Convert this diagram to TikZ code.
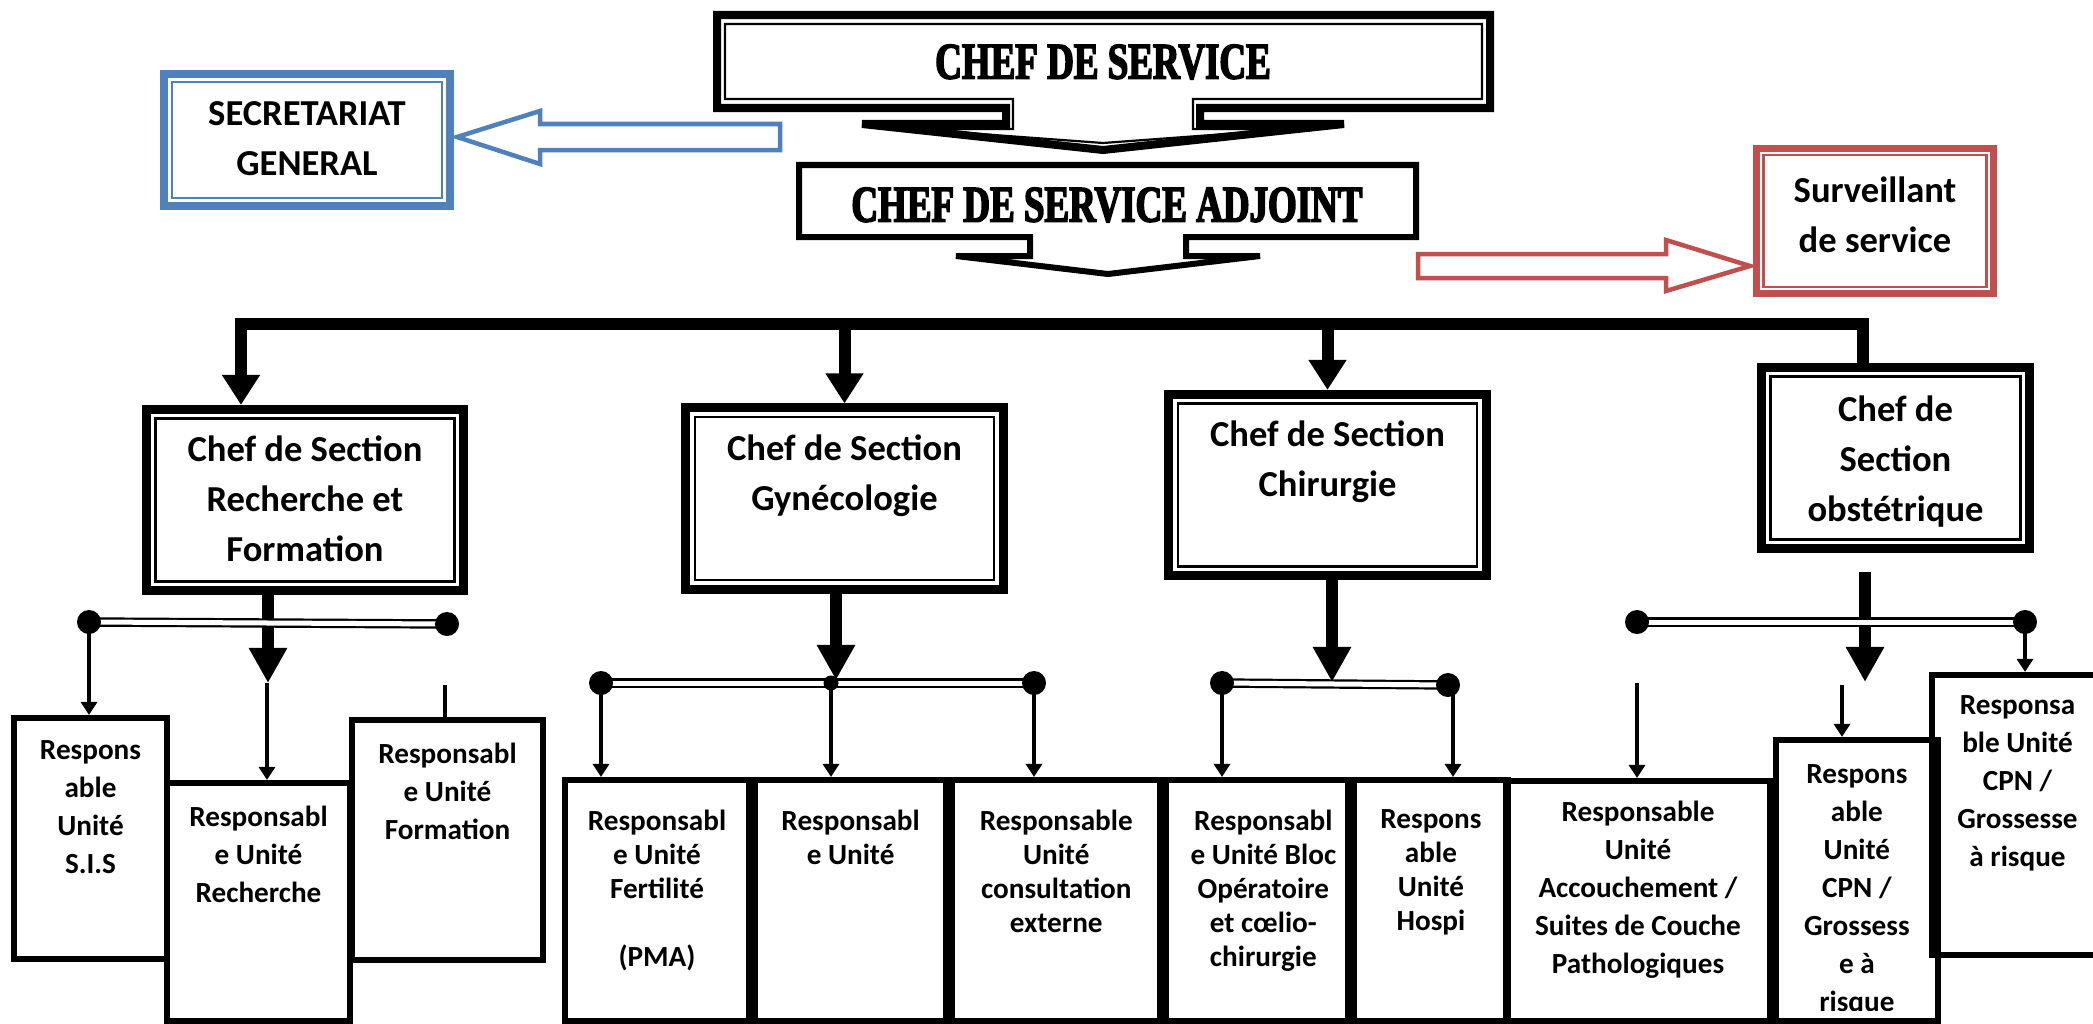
\documentclass[tikz,border=0pt]{standalone}
\usepackage{fontspec}
\setmainfont{Carlito}
\newfontfamily\titlefont[FakeStretch=0.72,BoldFeatures={FakeBold=3}]{Liberation Serif}
\usetikzlibrary{arrows.meta, positioning}
\definecolor{offblue}{HTML}{4F81BD}
\definecolor{offred}{HTML}{C0504D}

\begin{document}
\begin{tikzpicture}[
    x=.01cm, y=-.01cm,
    lbl/.style={font=\bfseries\fontsize{10.4}{14.2}\selectfont, align=center, inner sep=0pt},
    ulbl/.style={font=\bfseries\fontsize{8.3}{10.8}\selectfont, align=center, inner sep=0pt},
    ulbltight/.style={font=\bfseries\fontsize{8.3}{9.7}\selectfont, align=center, inner sep=0pt},
    ttl/.style={font=\titlefont\bfseries\fontsize{14.6}{16}\selectfont, inner sep=0pt},
    secbox/.style={draw, line width=.09cm, fill=white, inner sep=0pt, minimum width=3.17cm, minimum height=1.81cm},
    innerframe/.style={draw, line width=.022cm, inner sep=0pt},
    unitbox/.style={draw, line width=.06cm, inner sep=0pt},
    rowbox/.style={unitbox, minimum height=2.41cm},
    thinline/.style={line width=.022cm},
    busline/.style={line width=.12cm, line join=miter},
    bigarrow/.style={line width=.12cm, -{Triangle[width=.36cm, length=.35cm]}},
    smallarrow/.style={line width=.04cm, -{Triangle[width=.16cm, length=.13cm]}},
    bar/.style={double, double distance=.05cm, line width=.022cm},
    blockarrow/.style={line width=.045cm, fill=white, line join=miter},
]
\useasboundingbox (0,0) rectangle (2093,1024);
\clip (0,0) rectangle (2093,1024);

%% top: chef de service and adjoint, drawn as callouts
\draw[line width=.08cm, fill=white] (717,15) -- (1490,15) -- (1490,108) -- (1200,108)
    -- (1200,124) -- (1344,124) -- (1103,150) -- (862,124) -- (1006,124)
    -- (1006,108) -- (717,108) -- cycle;
\draw[thinline] (725,24) -- (1482,24) -- (1482,99) -- (1193,99) -- (1193,129)
    -- (1294,129) -- (1103,143) -- (912,129) -- (1013,129) -- (1013,99)
    -- (725,99) -- cycle;
\node[ttl] (cds) at (1103,62) {CHEF DE SERVICE};

\draw[line width=.06cm, fill=white] (799,165) -- (1416,165) -- (1416,237) -- (1186,237)
    -- (1186,256) -- (1260,256) -- (1108,274) -- (956,256) -- (1030,256)
    -- (1030,237) -- (799,237) -- cycle;
\node[ttl] (adj) at (1107,205) {CHEF DE SERVICE ADJOINT};

%% side boxes
\node[draw=offblue, line width=.08cm, inner sep=0pt, minimum width=2.865cm, minimum height=1.32cm] (secr) at (307,140) {};
\node[innerframe, draw=offblue, minimum width=2.865cm-.16cm, minimum height=1.32cm-.16cm] (secr-in) at (secr) {};
\node[lbl, below=.31cm of secr.north] (secr-t) {SECRETARIAT\\GENERAL};
\draw[blockarrow, draw=offblue] (780,124) -- (540,124) -- (540,111) -- (457,137)
    -- (540,164) -- (540,150) -- (780,150) -- cycle;

\node[draw=offred, line width=.07cm, inner sep=0pt, minimum width=2.36cm, minimum height=1.45cm] (surv) at (1875,221) {};
\node[innerframe, draw=offred, minimum width=2.36cm-.13cm, minimum height=1.45cm-.13cm] (surv-in) at (surv) {};
\node[lbl, below=.315cm of surv.north] (surv-t) {Surveillant\\de service};
\draw[blockarrow, draw=offred] (1418,254) -- (1666,254) -- (1666,240) -- (1750,266)
    -- (1666,291) -- (1666,278) -- (1418,278) -- cycle;

%% sections
\node[secbox] (rech) at (305,500) {};
\node[secbox] (gyn) at (844.5,498.5) {};
\node[secbox] (chir) at (1327.5,485) {};
\node[secbox, minimum width=2.68cm] (obst) at (1895.5,458) {};
\node[innerframe, minimum width=3.17cm-.18cm, minimum height=1.81cm-.18cm] (rech-in) at (rech) {};
\node[innerframe, minimum width=3.17cm-.18cm, minimum height=1.81cm-.18cm] (gyn-in) at (gyn) {};
\node[innerframe, minimum width=3.17cm-.18cm, minimum height=1.81cm-.18cm] (chir-in) at (chir) {};
\node[innerframe, minimum width=2.68cm-.18cm, minimum height=1.81cm-.18cm] (obst-in) at (obst) {};

\node[lbl, below=.305cm of rech.north] (rech-t) {Chef de Section\\Recherche et\\Formation};
\node[lbl, below=.305cm of gyn.north] (gyn-t) {Chef de Section\\Gynécologie};
\node[lbl, below=.305cm of chir.north] (chir-t) {Chef de Section\\Chirurgie};
\node[lbl, below=.325cm of obst.north] (obst-t) {Chef de\\Section\\obstétrique};

%% bus from the adjoint down to the sections
\coordinate (busL) at (241,324);
\coordinate (busR) at (1863,324);
\draw[busline, -{Triangle[width=.36cm, length=.30cm]}] (busR |- obst.north) -- (busR) -- (busL) -- (busL |- rech.north);
\draw[busline, -{Triangle[width=.36cm, length=.30cm]}] (gyn.north |- busL) -- (gyn.north);
\draw[busline, -{Triangle[width=.36cm, length=.30cm]}] (chir.north |- busL) -- (chir.north);

%% units
\node[unitbox, minimum width=1.53cm, minimum height=2.41cm] (sis) at (90.5,838.5) {};
\node[unitbox, minimum width=1.83cm, minimum height=2.38cm] (rechu) at (258.5,902) {};
\node[unitbox, minimum width=1.91cm, minimum height=2.40cm] (form) at (447.5,840) {};

\node[rowbox, minimum width=1.84cm] (fert) at (657,900.5) {};
\node[rowbox, minimum width=1.91cm, right=0pt of fert] (gynu) {};
\node[rowbox, minimum width=2.08cm, right=0pt of gynu] (cons) {};
\node[rowbox, minimum width=1.82cm, right=0pt of cons] (bloc) {};
\node[rowbox, minimum width=1.53cm, right=0pt of bloc] (hosp) {};

\node[unitbox, minimum width=2.635cm, minimum height=2.40cm] (acc) at (1638,901) {};
\node[unitbox, minimum width=1.62cm, minimum height=2.81cm, anchor=south west] (cpn) at (acc.south east) {};
\node[unitbox, minimum width=1.71cm, minimum height=2.80cm] (cpnr) at (2017.5,815) {};

\node[ulbl, below=.25cm of sis.north] (sis-t) {Respons\\able\\Unité\\S.I.S};
\node[ulbl, below=.25cm of rechu.north] (rechu-t) {Responsabl\\e Unité\\Recherche};
\node[ulbl, below=.25cm of form.north] (form-t) {Responsabl\\e Unité\\Formation};

\node[ulbltight, below=.32cm of fert.north] (fert-t) {Responsabl\\e Unité\\Fertilité\\[9.7pt](PMA)};
\node[ulbltight, below=.32cm of gynu.north] (gynu-t) {Responsabl\\e Unité};
\node[ulbltight, below=.32cm of cons.north] (cons-t) {Responsable\\Unité\\consultation\\externe};
\node[ulbltight, below=.32cm of bloc.north, xshift=.06cm] (bloc-t) {Responsabl\\e Unité Bloc\\Opératoire\\et cœlio-\\chirurgie};
\node[ulbltight, below=.32cm of hosp.north] (hosp-t) {Respons\\able\\Unité\\Hospi};

\node[ulbl, below=.22cm of acc.north] (acc-t) {Responsable\\Unité\\Accouchement /\\Suites de Couche\\Pathologiques};
\begin{scope}
    \clip (cpn.north west) rectangle ([yshift=.14cm]cpn.south east);
    \node[ulbl, below=.27cm of cpn.north] (cpn-t) {Respons\\able\\Unité\\CPN /\\Grossess\\e à\\risque};
\end{scope}
\node[ulbl, below=.23cm of cpnr.north] (cpnr-t) {Responsa\\ble Unité\\CPN /\\Grossesse\\à risque};

%% section -> bars
\coordinate (ra) at (268,683);
\coordinate (ga) at (836,680);
\coordinate (ca) at (1332,682);
\coordinate (oa) at (1865,682);
\coordinate (os) at (1865,572);
\draw[bigarrow] (rech.south -| ra) -- (ra);
\draw[bigarrow] (gyn.south -| ga) -- (ga);
\draw[bigarrow] (chir.south -| ca) -- (ca);
\draw[bigarrow] (os) -- (oa);

\coordinate (rbl) at (89,622);   \coordinate (rbr) at (447,624);
\coordinate (gbl) at (601,683);  \coordinate (gbm) at (831,683);  \coordinate (gbr) at (1034,683);
\coordinate (cbl) at (1222,683); \coordinate (cbr) at (1448,685);
\coordinate (obl) at (1637,622); \coordinate (obr) at (2025,622);
\draw[bar] (rbl) -- (rbr);
\draw[bar] (gbl) -- (gbr);
\draw[bar] (cbl) -- (cbr);
\draw[bar] (obl) -- (obr);
\foreach \p in {rbl, rbr, gbl, gbr, cbl, cbr, obl, obr}
    \fill (\p) circle (.12cm);
\fill (gbm) circle (.075cm);

%% bars -> units
\coordinate (rm) at (267,683);
\coordinate (rs) at (445,685);
\coordinate (cs) at (1453,685);
\coordinate (om1) at (1637,683);
\coordinate (om2) at (1842,685);
\draw[smallarrow] (rbl) -- (rbl |- sis.north);
\draw[smallarrow] (rm) -- (rm |- rechu.north);
\draw[line width=.04cm] (rs) -- (rs |- form.north);
\foreach \p/\b in {gbl/fert, gbm/gynu, gbr/cons, cbl/bloc, cs/hosp, om1/acc, om2/cpn, obr/cpnr}
    \draw[smallarrow] (\p) -- (\p |- \b.north);
\end{tikzpicture}
\end{document}
